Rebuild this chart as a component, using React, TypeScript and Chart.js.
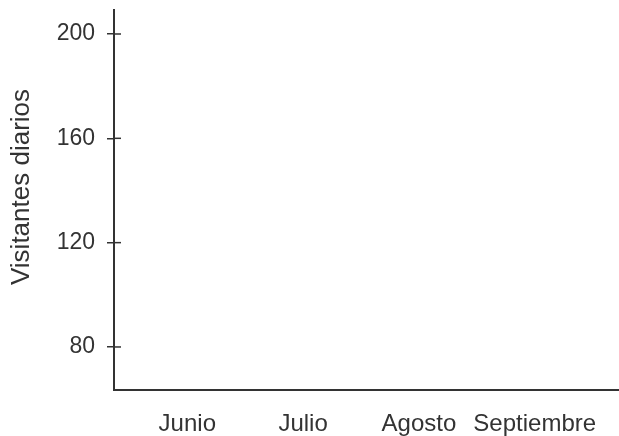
import React, { useEffect, useRef } from "react";
import { Chart, registerables } from "chart.js";

Chart.register(...registerables);

const categories = ["Junio", "Julio", "Agosto", "Septiembre"];
const yTicks = [80, 120, 160, 200];
const yTitle = "Visitantes diarios";
const visitors: number[] = []; // the reference shows no plotted values
const yRange = { min: 63.5, max: 209.2 };
const xRange = { min: -0.633, max: 3.728 };

const INK = "#333333";
const FONT = "'Liberation Sans', Arial, sans-serif";

const innerTicks = {
  id: "innerTicks",
  afterDraw(chart: any) {
    const { ctx, chartArea, scales } = chart;
    const y = scales.y;
    ctx.save();
    ctx.strokeStyle = INK;
    ctx.lineWidth = 1.5;
    yTicks.forEach((v) => {
      const py = y.getPixelForValue(v);
      ctx.beginPath();
      ctx.moveTo(chartArea.left, py);
      ctx.lineTo(chartArea.left + 7, py);
      ctx.stroke();
    });
    // y-axis title
    ctx.fillStyle = INK;
    ctx.font = `26px ${FONT}`;
    ctx.textAlign = "center";
    ctx.textBaseline = "middle";
    ctx.translate(22, (chartArea.top + chartArea.bottom) / 2 - 13);
    ctx.rotate(-Math.PI / 2);
    ctx.fillText(yTitle, 0, 0);
    ctx.restore();
  },
};

export default function App() {
  const ref = useRef<HTMLCanvasElement | null>(null);
  useEffect(() => {
    if (!ref.current) return;
    const chart = new Chart(ref.current, {
      type: "scatter",
      data: {
        datasets: [
          {
            data: visitors.map((v, i) => ({ x: i, y: v })),
            showLine: true,
          },
        ],
      },
      options: {
        animation: false,
        responsive: false,
        devicePixelRatio: 1,
        layout: { padding: { top: 10, right: 0, left: 0, bottom: 0 } },
        plugins: { legend: { display: false }, tooltip: { enabled: false } },
        scales: {
          x: {
            type: "linear",
            min: xRange.min,
            max: xRange.max,
            afterBuildTicks: (axis: any) => {
              axis.ticks = categories.map((_, i) => ({ value: i }));
            },
            afterFit: (axis: any) => {
              axis.height = 46;
              axis.paddingLeft = 0;
              axis.paddingRight = 0;
            },
            grid: { display: false, drawTicks: false },
            border: { display: true, color: INK, width: 2 },
            ticks: {
              autoSkip: false,
              maxRotation: 0,
              padding: 20,
              color: INK,
              font: { family: FONT, size: 24 },
              callback: (v: any) => categories[v as number] ?? null,
            },
          },
          y: {
            type: "linear",
            min: yRange.min,
            max: yRange.max,
            afterBuildTicks: (axis: any) => {
              axis.ticks = yTicks.map((v) => ({ value: v }));
            },
            afterFit: (axis: any) => {
              axis.width = 114;
              axis.paddingTop = 0;
              axis.paddingBottom = 0;
            },
            grid: {
              display: true,
              drawOnChartArea: false,
              drawTicks: true,
              tickLength: 7,
              color: INK,
              lineWidth: 1.5,
            },
            border: { display: true, color: INK, width: 2 },
            ticks: {
              padding: 12,
              color: INK,
              font: { family: FONT, size: 23 },
            },
          },
        },
      },
      plugins: [innerTicks],
    });
    return () => chart.destroy();
  }, []);
  return (
    <div style={{ position: "fixed", left: 0, top: 0, width: 619, height: 436, background: "#ffffff" }}>
      <canvas ref={ref} width={619} height={436} style={{ display: "block" }} />
    </div>
  );
}
